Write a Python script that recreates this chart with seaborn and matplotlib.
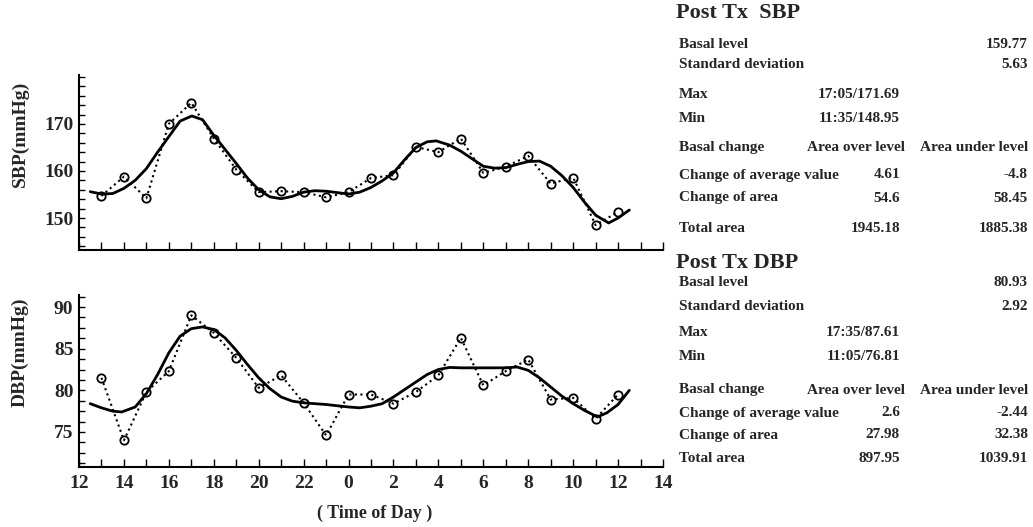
import numpy as np
import pandas as pd
import matplotlib
matplotlib.use("Agg")
import matplotlib.pyplot as plt
from matplotlib.ticker import MultipleLocator, FixedLocator
import seaborn as sns

# Hourly readings (hours counted from midnight of day 1; 24 = 0:00 next day)
hours = [13, 14, 15, 16, 17, 18, 19, 20, 21, 22, 23, 24,
         25, 26, 27, 28, 29, 30, 31, 32, 33, 34, 35, 36]
sbp_obs = [154.7, 158.8, 154.2, 170.0, 174.5, 166.9, 160.3, 155.5, 155.7, 155.5, 154.4, 155.5,
           158.5, 159.1, 165.1, 164.0, 166.9, 159.6, 160.9, 163.2, 157.3, 158.6, 148.5, 151.3]
dbp_obs = [81.5, 74.0, 79.8, 82.3, 89.0, 86.9, 83.9, 80.3, 81.8, 78.5, 74.6, 79.5,
           79.5, 78.4, 79.8, 81.8, 86.3, 80.6, 82.3, 83.7, 78.9, 79.1, 76.6, 79.5]

# Fitted (smoothed) rhythm curves
sbp_fit_t = [12.5, 13.0, 13.5, 14.0, 14.5, 15.0, 15.5, 16.0, 16.5, 17.02, 17.5, 18.0,
             18.5, 19.0, 19.5, 20.0, 20.5, 21.0, 21.5, 22.0, 22.5, 23.0, 23.5, 24.0,
             24.5, 25.0, 25.5, 26.0, 26.5, 27.0, 27.5, 27.9, 28.5, 29.0, 29.5, 30.0,
             30.5, 31.0, 31.5, 32.0, 32.5, 33.0, 33.5, 34.0, 34.5, 35.0, 35.58, 36.0, 36.5]
sbp_fit = [155.6, 155.1, 155.2, 156.3, 158.0, 160.5, 164.0, 167.3, 170.6, 171.69, 170.9, 167.6,
           164.6, 161.6, 158.5, 156.0, 154.5, 154.1, 154.6, 155.5, 155.8, 155.7, 155.4, 155.1,
           155.5, 156.5, 157.9, 159.6, 162.4, 165.0, 166.2, 166.4, 165.5, 164.2, 162.6, 161.0,
           160.6, 160.7, 161.4, 162.0, 162.1, 161.0, 159.0, 156.5, 153.4, 150.6, 148.95, 150.0, 151.7]

dbp_fit_t = [12.5, 13.0, 13.5, 13.9, 14.5, 15.0, 15.5, 16.0, 16.5, 17.0, 17.5, 18.0,
             18.5, 19.0, 19.5, 20.0, 20.5, 21.0, 21.5, 22.0, 23.0, 24.0, 24.5, 25.0,
             25.5, 26.0, 26.5, 27.0, 27.5, 28.0, 28.5, 29.0, 30.0, 31.0, 31.5, 32.0,
             32.5, 33.0, 33.5, 34.0, 34.5, 35.08, 35.5, 36.0, 36.5]
dbp_fit = [78.4, 77.9, 77.5, 77.4, 78.0, 79.6, 81.9, 84.5, 86.5, 87.4, 87.61, 87.3,
           86.3, 84.8, 83.1, 81.5, 80.2, 79.2, 78.7, 78.5, 78.3, 78.0, 77.9, 78.1,
           78.4, 79.2, 80.1, 81.0, 81.9, 82.5, 82.75, 82.7, 82.7, 82.7, 82.8, 82.4,
           81.5, 80.4, 79.3, 78.4, 77.6, 76.81, 77.3, 78.3, 80.0]

x_ticks = [12, 14, 16, 18, 20, 22, 24, 26, 28, 30, 32, 34, 36, 38]
x_labels = ["12", "14", "16", "18", "20", "22", "0", "2", "4", "6", "8", "10", "12", "14"]

# Summary statistics
sbp_stats = {"title": "Post Tx  SBP", "basal": "159.77", "sd": "5.63",
             "max": "17:05/171.69", "min": "11:35/148.95",
             "avg": ("4.61", "-4.8"), "area": ("54.6", "58.45"), "total": ("1945.18", "1885.38")}
dbp_stats = {"title": "Post Tx DBP", "basal": "80.93", "sd": "2.92",
             "max": "17:35/87.61", "min": "11:05/76.81",
             "avg": ("2.6", "-2.44"), "area": ("27.98", "32.38"), "total": ("897.95", "1039.91")}

sns.set_theme(style="white")
plt.rcParams["font.family"] = ["Liberation Serif", "DejaVu Serif"]
plt.rcParams["font.weight"] = "bold"

W, H = 1033, 527
fig = plt.figure(figsize=(W / 100, H / 100), dpi=100)


def px_axes(left, top, right, bottom):
    return fig.add_axes([left / W, 1 - bottom / H, (right - left) / W, (bottom - top) / H])


ax1 = px_axes(79, 75, 663, 250)
ax2 = px_axes(79, 295, 663, 467)

obs_df = pd.DataFrame({"t": hours, "sbp": sbp_obs, "dbp": dbp_obs})
sfit = pd.DataFrame({"t": sbp_fit_t, "v": sbp_fit})
dfit = pd.DataFrame({"t": dbp_fit_t, "v": dbp_fit})

for ax, col, fit in [(ax1, "sbp", sfit), (ax2, "dbp", dfit)]:
    sns.lineplot(data=obs_df, x="t", y=col, ax=ax, color="black", linestyle=":",
                 linewidth=1.5, marker="o", markersize=6, markerfacecolor="none",
                 markeredgecolor="black", markeredgewidth=1.3)
    sns.lineplot(data=fit, x="t", y="v", ax=ax, color="black", linewidth=2.0)
    ax.set_xlim(12, 38)
    ax.xaxis.set_major_locator(FixedLocator(x_ticks))
    ax.xaxis.set_minor_locator(MultipleLocator(1))
    for s in ["top", "right"]:
        ax.spines[s].set_visible(False)
    for s in ["left", "bottom"]:
        ax.spines[s].set_color("black")
        ax.spines[s].set_linewidth(1.5)
    ax.tick_params(axis="both", which="both", direction="in", color="black",
                   width=1.0, labelsize=14, pad=4, bottom=True, left=True,
                   top=False, right=False)
    ax.tick_params(axis="x", which="both", length=6, pad=6)
    ax.tick_params(axis="y", which="both", length=4)
    ax.set_xlabel("")
    ax.set_ylabel("")

ax1.set_ylim(143.2, 180.4)
ax1.yaxis.set_major_locator(FixedLocator([150, 160, 170]))
ax1.yaxis.set_minor_locator(MultipleLocator(2))
ax1.set_xticklabels([])

ax2.set_ylim(70.8, 91.44)
ax2.yaxis.set_major_locator(FixedLocator([75, 80, 85, 90]))
ax2.yaxis.set_minor_locator(MultipleLocator(1.25))
ax2.set_xticks(x_ticks)
ax2.set_xticklabels(x_labels, fontweight="bold", fontsize=14)
for ax in (ax1, ax2):
    ax.set_yticklabels([f"{v:g}" for v in ax.get_yticks()], fontweight="bold", fontsize=14)

fig.text(20 / W, 1 - 134 / H, "SBP(mmHg)", rotation=90, ha="center", va="center",
         fontsize=14, fontweight="bold")
fig.text(20 / W, 1 - 352 / H, "DBP(mmHg)", rotation=90, ha="center", va="center",
         fontsize=14, fontweight="bold")
fig.text(375 / W, 1 - 513 / H, "( Time of Day )", ha="center", va="center",
         fontsize=13, fontweight="bold")


def t(x, y, s, ha="left", size=11):
    fig.text(x / W, 1 - y / H, s, ha=ha, va="center", fontsize=size, fontweight="bold")


def panel(st, ys):
    t(676, ys[0], st["title"], size=16)
    t(679, ys[1], "Basal level")
    t(1028, ys[1], st["basal"], ha="right")
    t(679, ys[2], "Standard deviation")
    t(1028, ys[2], st["sd"], ha="right")
    t(679, ys[3], "Max")
    t(900, ys[3], st["max"], ha="right")
    t(679, ys[4], "Min")
    t(900, ys[4], st["min"], ha="right")
    t(679, ys[5], "Basal change")
    t(905, ys[5], "Area over level", ha="right")
    t(1028, ys[5], "Area under level", ha="right")
    t(679, ys[6], "Change of average value")
    t(900, ys[6], st["avg"][0], ha="right")
    t(1028, ys[6], st["avg"][1], ha="right")
    t(679, ys[7], "Change of area")
    t(900, ys[7], st["area"][0], ha="right")
    t(1028, ys[7], st["area"][1], ha="right")
    t(679, ys[8], "Total area")
    t(900, ys[8], st["total"][0], ha="right")
    t(1028, ys[8], st["total"][1], ha="right")


panel(sbp_stats, [13, 44, 65, 94, 118, 148, 175, 198, 228])
panel(dbp_stats, [263, 283, 307, 333, 357, 390, 413, 435, 458])

fig.savefig("out.png", dpi=100, facecolor="white")
